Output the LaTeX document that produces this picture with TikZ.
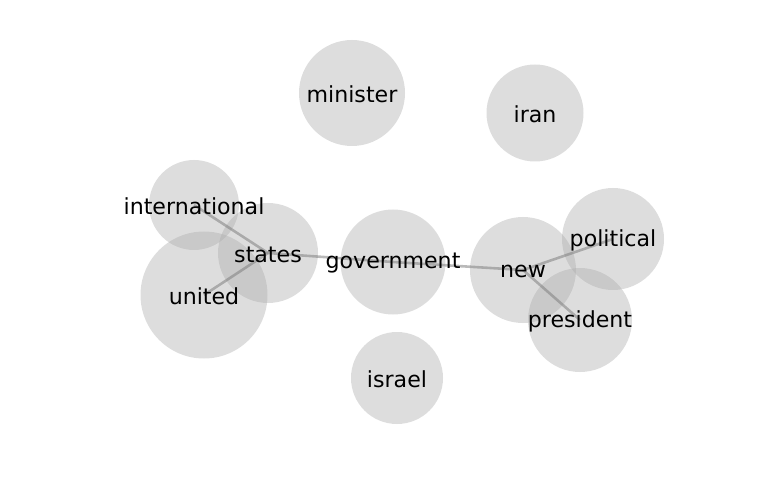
\documentclass[tikz,border=0pt]{standalone}
\usepackage{fontspec}
\setmainfont{DejaVu Sans}

\begin{document}
\begin{tikzpicture}[x=1bp,y=-1bp,
bubble/.style={%
circle,
fill=black!33,
fill opacity=.4,
inner sep=0pt
},
link/.style={%
draw=black!50,
opacity=.55,
line width=2.6bp
},
word/.style={%
font=\fontsize{22.2}{26}\selectfont,
inner sep=0pt,
yshift=-1.5bp
},
]
\useasboundingbox (0,0) rectangle (768,500);
%% circles
\node[bubble,minimum size=106bp]at(352,93)(minister){};
\node[bubble,minimum size=97bp]at(535,113)(iran){};
\node[bubble,minimum size=90bp]at(194,205)(international){};
\node[bubble,minimum size=100bp]at(268,253)(states){};
\node[bubble,minimum size=127bp]at(204,295)(united){};
\node[bubble,minimum size=105bp]at(393,262)(government){};
\node[bubble,minimum size=106bp]at(523,270)(new){};
\node[bubble,minimum size=102bp]at(613,239)(political){};
\node[bubble,minimum size=104bp]at(580,320)(president){};
\node[bubble,minimum size=92bp]at(397,378)(israel){};
%% links
\draw[link](international.center)--(states.center);
\draw[link](united.center)--(states.center);
\draw[link](states.center)--(government.center);
\draw[link](government.center)--(new.center);
\draw[link](new.center)--(political.center);
\draw[link](new.center)--(president.center);
%% words
\node[word]at(minister){minister};
\node[word]at(iran){iran};
\node[word]at(international){international};
\node[word]at(states){states};
\node[word]at(united){united};
\node[word]at(government){government};
\node[word]at(new){new};
\node[word]at(political){political};
\node[word]at(president){president};
\node[word]at(israel){israel};
\end{tikzpicture}
\end{document}
